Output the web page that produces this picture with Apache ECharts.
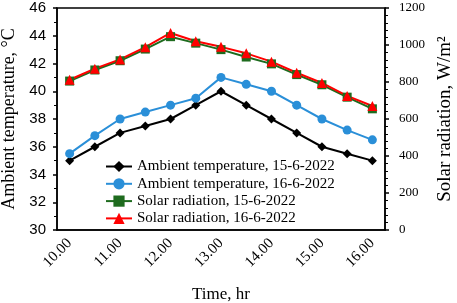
<!DOCTYPE html>
<html>
<head>
<meta charset="utf-8">
<script src="https://cdn.jsdelivr.net/npm/echarts@6/dist/echarts.min.js"></script>
<style>html,body{margin:0;padding:0;background:#fff}#c{width:457px;height:303px}</style>
</head>
<body>
<div id="c"></div>
<script>
var categories = ["10.00","10.30","11.00","11.30","12.00","12.30","13.00","13.30","14.00","14.30","15.00","15.30","16.00"];
var ambient15 = [35, 36, 37, 37.5, 38, 39, 40, 39, 38, 37, 36, 35.5, 35];
var ambient16 = [35.5, 36.8, 38, 38.5, 39, 39.5, 41, 40.5, 40, 39, 38, 37.2, 36.5];
var solar15 = [805, 865, 915, 978, 1045, 1010, 975, 935, 898, 840, 785, 718, 655];
var solar16 = [812, 872, 922, 988, 1065, 1020, 990, 955, 910, 850, 795, 725, 670];
var seriesNames = ["Ambient temperature, 15-6-2022","Ambient temperature, 16-6-2022","Solar radiation, 15-6-2022","Solar radiation, 16-6-2022"];

var serif = "'Liberation Serif','Times New Roman',serif";
var sans = "'Liberation Sans',Arial,sans-serif";
var chart = echarts.init(document.getElementById('c'), null, {renderer:'canvas'});
function mkSeries(name, data, color, symbol, size, yIdx){
  return {name:name, type:'line', data:data, yAxisIndex:yIdx, symbol:symbol, symbolSize:size,
    lineStyle:{color:color, width:2}, itemStyle:{color:color}, animation:false};
}
chart.setOption({
  animation:false,
  grid:{left:57, right:72, top:8, bottom:73, containLabel:false, outerBoundsMode:'none',
    show:true, borderColor:'#000', borderWidth:1.5, backgroundColor:'transparent'},
  legend:{orient:'vertical', left:100, top:154, itemWidth:26, itemHeight:14, itemGap:2.3,
    textStyle:{fontFamily:serif, fontSize:15, color:'#000'}, data:seriesNames},
  xAxis:{type:'category', data:categories, boundaryGap:true,
    name:'Time, hr', nameLocation:'middle', nameGap:56,
    nameTextStyle:{fontFamily:serif, fontSize:17, color:'#000'},
    axisLine:{lineStyle:{color:'#000', width:1.5}},
    axisTick:{alignWithLabel:true, interval:0, length:4, lineStyle:{color:'#000', width:1.5}},
    axisLabel:{interval:1, rotate:45, fontFamily:serif, fontSize:15, color:'#000', margin:11},
    splitLine:{show:false}},
  yAxis:[{type:'value', min:30, max:46, interval:2, position:'left',
    name:'Ambient temperature, °C', nameLocation:'middle', nameGap:38, nameRotate:90,
    nameTextStyle:{fontFamily:serif, fontSize:18, color:'#000'},
    axisLine:{show:true, lineStyle:{color:'#000', width:1.5}},
    axisTick:{show:true, length:4, lineStyle:{color:'#000', width:1.5}},
    minorTick:{show:true, splitNumber:2, length:3, lineStyle:{color:'#000', width:1}},
    axisLabel:{fontFamily:sans, fontSize:15, color:'#000', margin:11},
    splitLine:{show:false}},
   {type:'value', min:0, max:1200, interval:200, position:'right',
    name:'Solar radiation, W/m²', nameLocation:'middle', nameGap:67, nameRotate:90,
    nameTextStyle:{fontFamily:serif, fontSize:19, color:'#000', verticalAlign:'bottom'},
    axisLine:{show:true, lineStyle:{color:'#000', width:1.5}},
    axisTick:{show:true, length:4, lineStyle:{color:'#000', width:1.5}},
    minorTick:{show:true, splitNumber:5, length:3, lineStyle:{color:'#000', width:1}},
    axisLabel:{fontFamily:serif, fontSize:13, color:'#000', margin:14, formatter:function(v){return String(v);}},
    splitLine:{show:false}}],
  series:[
    mkSeries(seriesNames[0], ambient15, '#000000', 'diamond', 9, 0),
    mkSeries(seriesNames[1], ambient16, '#2a8fd8', 'circle', 9, 0),
    mkSeries(seriesNames[2], solar15, '#1e6b1e', 'rect', 9, 1),
    mkSeries(seriesNames[3], solar16, '#ff0000', 'triangle', 10, 1)
  ]
});
</script>
</body>
</html>
